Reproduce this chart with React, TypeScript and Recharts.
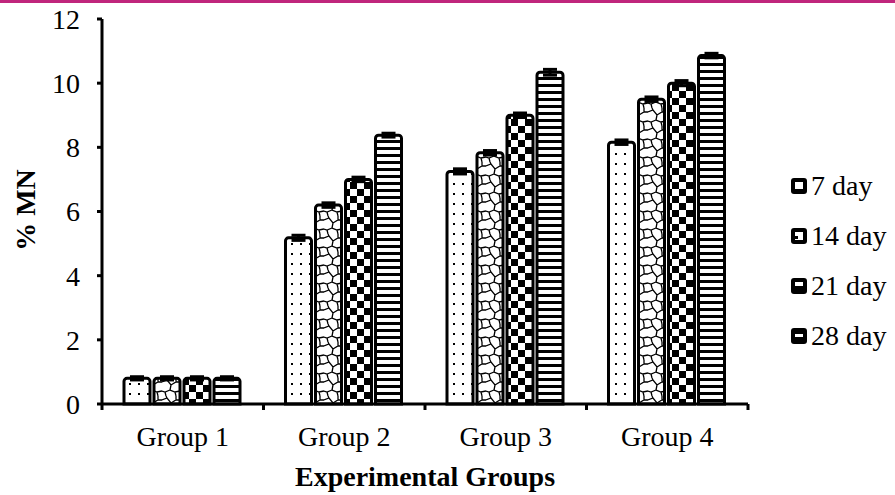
import React from 'react';
import { BarChart, Bar, XAxis, YAxis, ErrorBar } from 'recharts';

const categories = ['Group 1', 'Group 2', 'Group 3', 'Group 4'];
const day7 = [0.8, 5.18, 7.25, 8.16];
const day14 = [0.8, 6.2, 7.83, 9.5];
const day21 = [0.8, 7.0, 9.0, 10.0];
const day28 = [0.8, 8.38, 10.34, 10.86];
const err7 = [0.05, 0.08, 0.08, 0.07];
const err14 = [0.05, 0.07, 0.07, 0.07];
const err21 = [0.05, 0.07, 0.07, 0.08];
const err28 = [0.05, 0.06, 0.09, 0.07];
const yTicks = [0, 2, 4, 6, 8, 10, 12];
const seriesNames = ['7 day', '14 day', '21 day', '28 day'];

const data = categories.map((c, i) => ({
  name: c,
  d7: day7[i], d14: day14[i], d21: day21[i], d28: day28[i],
  e7: err7[i], e14: err14[i], e21: err21[i], e28: err28[i],
}));

const W = 895;
const H = 495;
const M = { top: 19, right: 147, bottom: 0, left: 0 };
const Y_W = 102;
const X_H = 91;
const PLOT_W = W - M.left - M.right - Y_W;
const HALF_BAND = PLOT_W / categories.length / 2;
const TICK_SIZE = 6;
const X_MARGIN = 16;
const FONT = "'Liberation Serif', 'Times New Roman', serif";

const XTick = (props: any) => {
  const { x, y, payload, index } = props;
  const axisY = y - TICK_SIZE - X_MARGIN;
  const last = index === categories.length - 1;
  return (
    <g>
      <line x1={x - HALF_BAND} x2={x - HALF_BAND} y1={axisY} y2={axisY + TICK_SIZE} stroke="#000" strokeWidth={3} />
      {last && <line x1={x + HALF_BAND} x2={x + HALF_BAND} y1={axisY} y2={axisY + TICK_SIZE} stroke="#000" strokeWidth={3} />}
      <text x={x} y={y} dy="0.71em" textAnchor="middle" fill="#000" fontFamily={FONT} fontSize={28}>
        {payload.value}
      </text>
    </g>
  );
};

const LegendIcon = ({ i }: { i: number }) => {
  const inner = [
    <rect key="a" x={4} y={4} width={8} height={7} fill="#fff" />,
    <g key="b"><rect x={4} y={4} width={8} height={8} fill="#fff" /><rect x={4} y={8} width={3} height={3} fill="#000" /></g>,
    <rect key="c" x={4} y={4} width={8} height={4} fill="#fff" />,
    <rect key="d" x={4} y={6} width={8} height={3} fill="#fff" />,
  ][i];
  return (
    <svg width={16} height={16} style={{ display: 'block' }}>
      <rect x={0} y={0} width={16} height={16} rx={3} fill="#000" />
      {inner}
    </svg>
  );
};

export default function App() {
  return (
    <div style={{ position: 'absolute', left: 0, top: 0, width: W, height: H, background: '#fff' }}>
      <div style={{ position: 'absolute', left: 0, top: 0, width: W, height: 3, background: '#c0267c' }} />
      <BarChart width={W} height={H} data={data} margin={M} barCategoryGap={22} barGap={4}>
        <defs>
          <pattern id="pDots" width={9} height={10} patternUnits="userSpaceOnUse">
            <rect width={9} height={10} fill="#fff" />
            <rect x={3} y={3} width={2} height={2} fill="#000" />
          </pattern>
          <pattern id="pLattice" width={18} height={18} patternUnits="userSpaceOnUse">
            <rect width={18} height={18} fill="#fff" />
            <path d="M0 4 L5 2 L9 7 L14 4 L18 4 M9 7 L8 12 L13 14 L18 13 M8 12 L3 14 L0 13 M13 14 L14 18 M14 0 L14 4 M3 14 L4 18 M4 0 L5 2" stroke="#000" strokeWidth={1.3} fill="none" />
          </pattern>
          <pattern id="pChecker" width={14} height={14} patternUnits="userSpaceOnUse">
            <rect width={14} height={14} fill="#fff" />
            <rect x={0} y={0} width={7} height={7} fill="#000" />
            <rect x={7} y={7} width={7} height={7} fill="#000" />
          </pattern>
          <pattern id="pStripes" width={10} height={7} patternUnits="userSpaceOnUse">
            <rect width={10} height={7} fill="#fff" />
            <rect x={0} y={0} width={10} height={3} fill="#000" />
          </pattern>
        </defs>
        <XAxis
          dataKey="name"
          height={X_H}
          axisLine={{ stroke: '#000', strokeWidth: 3 }}
          tickLine={false}
          tickSize={TICK_SIZE}
          tickMargin={X_MARGIN}
          tick={<XTick />}
          interval={0}
          label={{
            content: () => (
              <text x={M.left + Y_W + PLOT_W / 2} y={486} textAnchor="middle" fontFamily={FONT} fontSize={28} fontWeight="bold" fill="#000">
                Experimental Groups
              </text>
            ),
          }}
        />
        <YAxis
          width={Y_W}
          domain={[0, 12]}
          ticks={yTicks}
          interval={0}
          axisLine={{ stroke: '#000', strokeWidth: 3 }}
          tickLine={{ stroke: '#000', strokeWidth: 3 }}
          tickSize={5}
          tickMargin={17}
          tick={{ fill: '#000', fontFamily: FONT, fontSize: 28 }}
          label={{
            content: () => (
              <text x={25} y={210} transform="rotate(-90 25 210)" textAnchor="middle" dominantBaseline="central" fontFamily={FONT} fontSize={28} fontWeight="bold" fill="#000">
                % MN
              </text>
            ),
          }}
        />
        <Bar dataKey="d7" name={seriesNames[0]} fill="url(#pDots)" stroke="#000" strokeWidth={3} radius={[3, 3, 0, 0]} isAnimationActive={false}>
          <ErrorBar dataKey="e7" width={7} strokeWidth={3} stroke="#000" direction="y" />
        </Bar>
        <Bar dataKey="d14" name={seriesNames[1]} fill="url(#pLattice)" stroke="#000" strokeWidth={3} radius={[3, 3, 0, 0]} isAnimationActive={false}>
          <ErrorBar dataKey="e14" width={7} strokeWidth={3} stroke="#000" direction="y" />
        </Bar>
        <Bar dataKey="d21" name={seriesNames[2]} fill="url(#pChecker)" stroke="#000" strokeWidth={3} radius={[3, 3, 0, 0]} isAnimationActive={false}>
          <ErrorBar dataKey="e21" width={7} strokeWidth={3} stroke="#000" direction="y" />
        </Bar>
        <Bar dataKey="d28" name={seriesNames[3]} fill="url(#pStripes)" stroke="#000" strokeWidth={3} radius={[3, 3, 0, 0]} isAnimationActive={false}>
          <ErrorBar dataKey="e28" width={7} strokeWidth={3} stroke="#000" direction="y" />
        </Bar>
      </BarChart>
      <div style={{ position: 'absolute', left: 791, top: 161, fontFamily: FONT, fontSize: 28, color: '#000' }}>
        {seriesNames.map((n, i) => (
          <div key={n} style={{ display: 'flex', alignItems: 'center', height: 50, lineHeight: '40px' }}>
            <LegendIcon i={i} />
            <span style={{ marginLeft: 4, whiteSpace: 'nowrap' }}>{n}</span>
          </div>
        ))}
      </div>
    </div>
  );
}
